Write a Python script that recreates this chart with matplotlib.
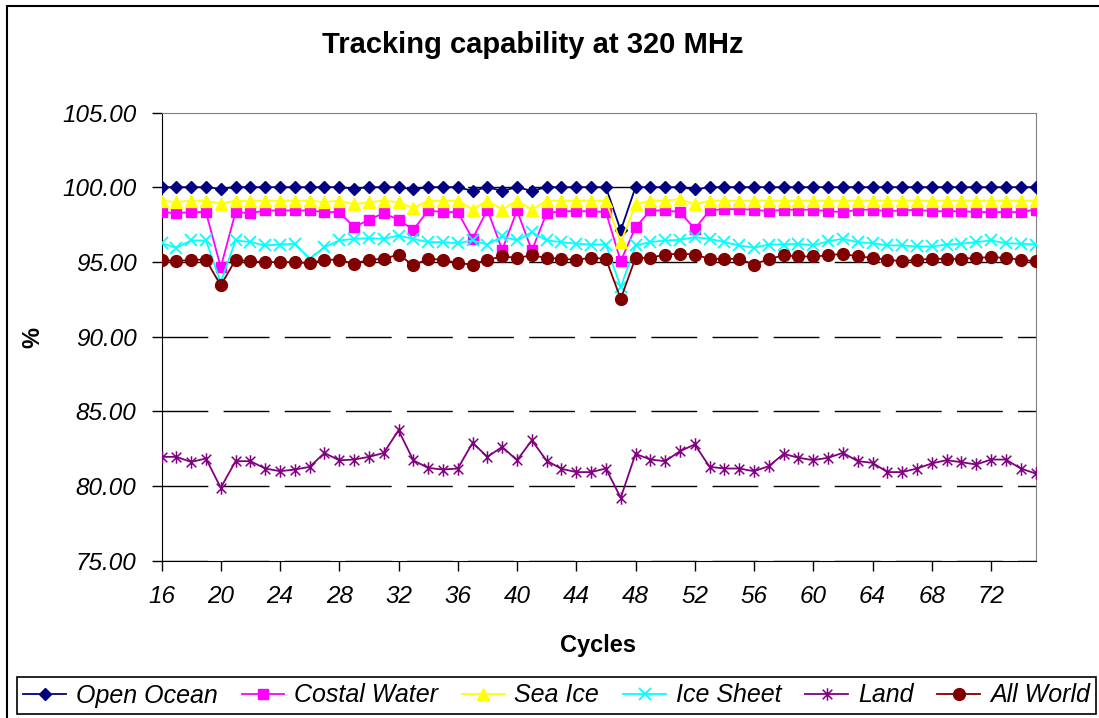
import numpy as np
import matplotlib
matplotlib.use("Agg")
import matplotlib.pyplot as plt
from matplotlib.path import Path
from matplotlib.patches import Rectangle

plt.rcParams['font.family'] = ['Liberation Sans', 'DejaVu Sans']

cycles = list(range(16, 76))

open_ocean = [100.0, 100.0, 100.0, 100.0, 99.9, 100.0, 100.0, 100.0, 100.0, 100.0,
              100.0, 100.0, 100.0, 99.9, 100.0, 100.0, 100.0, 99.85, 100.0, 100.0,
              100.0, 99.75, 100.0, 99.75, 100.0, 99.75, 100.0, 100.0, 100.0, 100.0,
              100.0, 97.1, 100.0, 100.0, 100.0, 100.0, 99.85, 100.0, 100.0, 100.0,
              100.0, 100.0, 100.0, 100.0, 100.0, 100.0, 100.0, 100.0, 100.0, 100.0,
              100.0, 100.0, 100.0, 100.0, 100.0, 100.0, 100.0, 100.0, 100.0, 100.0]

costal_water = [98.33, 98.26, 98.33, 98.33, 94.64, 98.33, 98.26, 98.44, 98.44, 98.44,
                98.44, 98.33, 98.33, 97.32, 97.82, 98.26, 97.82, 97.15, 98.44, 98.33,
                98.33, 96.54, 98.49, 95.81, 98.44, 95.76, 98.26, 98.39, 98.39, 98.39,
                98.33, 95.04, 97.32, 98.44, 98.44, 98.33, 97.21, 98.44, 98.53, 98.53,
                98.49, 98.39, 98.49, 98.49, 98.49, 98.39, 98.33, 98.49, 98.49, 98.39,
                98.44, 98.49, 98.39, 98.39, 98.39, 98.33, 98.33, 98.33, 98.33, 98.5]

sea_ice = [99.1, 99.0, 99.1, 99.1, 98.9, 99.1, 99.05, 99.1, 99.1, 99.1,
           99.1, 99.0, 99.1, 98.85, 99.0, 99.1, 99.0, 98.6, 99.1, 99.1,
           99.1, 98.5, 99.1, 98.5, 99.1, 98.5, 99.1, 99.1, 99.1, 99.1,
           99.1, 96.3, 98.85, 99.1, 99.1, 99.2, 98.85, 99.1, 99.1, 99.1,
           99.1, 99.1, 99.1, 99.1, 99.1, 99.1, 99.1, 99.1, 99.1, 99.1,
           99.1, 99.1, 99.1, 99.1, 99.1, 99.1, 99.1, 99.1, 99.1, 99.1]

ice_sheet = [96.25, 95.94, 96.43, 96.43, 93.64, 96.43, 96.32, 96.1, 96.16, 96.21,
             95.2, 95.98, 96.43, 96.54, 96.58, 96.54, 96.76, 96.54, 96.32, 96.32,
             96.25, 96.43, 96.16, 96.7, 96.43, 96.99, 96.43, 96.32, 96.21, 96.16,
             96.16, 93.3, 96.1, 96.32, 96.43, 96.47, 96.65, 96.54, 96.32, 96.1,
             95.94, 96.16, 96.16, 96.21, 96.1, 96.38, 96.54, 96.32, 96.25, 96.1,
             96.1, 96.03, 96.03, 96.16, 96.21, 96.32, 96.43, 96.25, 96.21, 96.16]

land = [81.94, 81.94, 81.6, 81.83, 79.87, 81.65, 81.65, 81.16, 80.98, 81.09,
        81.27, 82.2, 81.71, 81.76, 81.94, 82.2, 83.72, 81.71, 81.2, 81.09,
        81.16, 82.88, 81.94, 82.61, 81.71, 83.05, 81.68, 81.14, 80.92, 80.92,
        81.16, 79.2, 82.14, 81.76, 81.65, 82.32, 82.77, 81.27, 81.16, 81.16,
        80.98, 81.32, 82.14, 81.88, 81.72, 81.88, 82.21, 81.65, 81.54, 80.92,
        80.92, 81.16, 81.5, 81.72, 81.58, 81.43, 81.76, 81.76, 81.16, 80.83]

all_world = [95.14, 95.04, 95.14, 95.14, 93.42, 95.14, 95.04, 94.98, 94.98, 94.98,
             94.91, 95.14, 95.14, 94.87, 95.14, 95.2, 95.49, 94.76, 95.2, 95.14,
             94.91, 94.82, 95.14, 95.36, 95.27, 95.43, 95.27, 95.2, 95.14, 95.27,
             95.2, 92.52, 95.27, 95.27, 95.49, 95.54, 95.49, 95.2, 95.2, 95.2,
             94.8, 95.2, 95.43, 95.36, 95.36, 95.43, 95.54, 95.36, 95.27, 95.14,
             95.04, 95.14, 95.2, 95.2, 95.2, 95.27, 95.31, 95.27, 95.14, 95.04]

x_ticks = list(range(16, 76, 4))
y_ticks = [75, 80, 85, 90, 95, 100, 105]

# excel style "star" marker: an x with a vertical bar through it
star = Path([(-1, -1), (1, 1), (-1, 1), (1, -1), (0, -1.3), (0, 1.3)],
            [Path.MOVETO, Path.LINETO, Path.MOVETO, Path.LINETO, Path.MOVETO, Path.LINETO])


def plot_tracking():
    fig = plt.figure(figsize=(10.99, 7.18), dpi=100)
    ax = fig.add_axes([161.5 / 1099, 1 - 560.5 / 718, 874 / 1099, 448 / 718])

    series = [
        ("Open Ocean", open_ocean, '#000080', 'D', 6.5, {}),
        ("Costal Water", costal_water, '#FF00FF', 's', 7.5, {}),
        ("Sea Ice", sea_ice, '#FFFF00', '^', 9, {}),
        ("Ice Sheet", ice_sheet, '#00FFFF', 'x', 8, {'markeredgewidth': 1.3}),
        ("Land", land, '#800080', star, 9, {'markeredgewidth': 1.1}),
        ("All World", all_world, '#800000', 'o', 8.5, {}),
    ]
    for name, vals, col, mk, ms, extra in series:
        ax.plot(cycles, vals, color=col, marker=mk, markersize=ms, linewidth=1.3,
                markerfacecolor=col, markeredgecolor=col, label=name, zorder=3, **extra)

    ax.set_xlim(16, 75)
    ax.set_ylim(75, 105)
    ax.set_xticks(x_ticks)
    ax.set_yticks(y_ticks)
    ax.set_yticklabels([f"{v:.2f}" for v in y_ticks])
    for lab in ax.get_xticklabels() + ax.get_yticklabels():
        lab.set_fontstyle('italic')
        lab.set_fontsize(17.5)
    ax.tick_params(axis='y', direction='out', length=7, width=1, pad=11)
    ax.tick_params(axis='x', direction='out', length=7, width=1, pad=10.5)

    ax.yaxis.grid(True, color='black', linewidth=1, dashes=(33, 11), zorder=0)
    ax.get_ygridlines()[-1].set_visible(False)
    ax.set_axisbelow(True)
    ax.spines['top'].set_color('#808080')
    ax.spines['right'].set_color('#808080')

    fig.text(533 / 1099, 1 - 53 / 718, "Tracking capability at 320 MHz",
             ha='center', va='baseline', fontsize=21, fontweight='bold')
    fig.text(598 / 1099, 1 - 652 / 718, "Cycles", ha='center', va='baseline',
             fontsize=17, fontweight='bold')
    fig.text(33 / 1099, 1 - 337 / 718, "%", ha='center', va='center',
             rotation=90, fontsize=17, fontweight='bold')

    leg = fig.legend(loc='center', ncol=6, mode='expand',
                     bbox_to_anchor=(17 / 1099, 1 - 716 / 718, 1079 / 1099, 41 / 718),
                     prop={'style': 'italic', 'size': 18}, frameon=True, fancybox=False,
                     edgecolor='black', framealpha=1, handlelength=1.7, handletextpad=0.4,
                     borderpad=0.25, borderaxespad=0)
    leg.get_frame().set_linewidth(1.2)

    fig.patches.append(Rectangle((7 / 1099, -0.1), 1.2, 1.1 - 6 / 718, transform=fig.transFigure,
                                 fill=False, edgecolor='black', linewidth=1.5))

    fig.savefig("out.png", dpi=100)


if __name__ == "__main__":
    plot_tracking()
